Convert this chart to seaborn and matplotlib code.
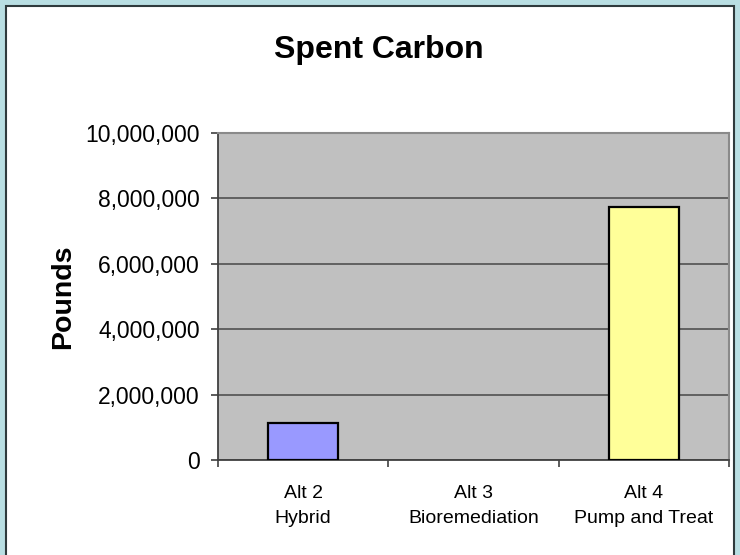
import matplotlib
matplotlib.use("Agg")
import matplotlib.pyplot as plt
import matplotlib.patches as mpatches
from matplotlib.ticker import FuncFormatter, FixedLocator
import seaborn as sns
import pandas as pd

# data
alternatives = ["Alt 2\nHybrid", "Alt 3\nBioremediation", "Alt 4\nPump and Treat"]
spent_carbon_lbs = [1130000, 0, 7750000]
bar_colors = ["#9999FF", "#C0C0C0", "#FFFF99"]
y_ticks = [0, 2000000, 4000000, 6000000, 8000000, 10000000]

sns.set_style("white", {"axes.facecolor": "#C0C0C0", "text.color": "black",
                        "xtick.color": "#404040", "ytick.color": "#404040"})
plt.rcParams["font.family"] = ["Liberation Sans", "DejaVu Sans"]

df = pd.DataFrame({"alt": alternatives, "lbs": spent_carbon_lbs})

fig = plt.figure(figsize=(7.4, 5.55), dpi=100, facecolor="#B9DFE3")
# white chart area with dark frame, kept behind the axes
frame = mpatches.Rectangle((6 / 740, -0.01), 728 / 740, 1 - 6 / 555 + 0.01,
                           transform=fig.transFigure, facecolor="white",
                           edgecolor="#2F3B3D", linewidth=1.5, zorder=-5)
fig.patches.append(frame)

ax = fig.add_axes([218 / 740, 1 - 460 / 555, 511 / 740, 327 / 555])
ax.set_zorder(1)
sns.barplot(data=df, x="alt", y="lbs", hue="alt", palette=bar_colors, legend=False,
            saturation=1, edgecolor="black", linewidth=1.6, width=0.41, ax=ax, zorder=3)
for p in ax.patches:
    if p.get_height() == 0:
        p.set_edgecolor("none")

ax.set_ylim(0, 10000000)
ax.set_xlim(-0.5, 2.5)
ax.yaxis.set_major_locator(FixedLocator(y_ticks))
ax.yaxis.set_major_formatter(FuncFormatter(lambda v, _: f"{int(v):,}"))
ax.grid(axis="y", color="#5A5A5A", linewidth=1.3, zorder=1)
ax.set_axisbelow(True)

ax.xaxis.set_minor_locator(FixedLocator([-0.5, 0.5, 1.5, 2.5]))
ax.tick_params(axis="x", which="major", length=0, pad=18, labelsize=14, labelcolor="black")
ax.tick_params(axis="x", which="minor", length=5, width=1.2, color="#404040",
               direction="out", bottom=True)
ax.tick_params(axis="y", length=5, width=1.2, color="#404040", direction="out",
               pad=8, labelsize=16.5, left=True, labelcolor="black")

for side in ["left", "bottom"]:
    ax.spines[side].set_color("#404040")
    ax.spines[side].set_linewidth(1.3)
for side in ["right", "top"]:
    ax.spines[side].set_visible(True)
    ax.spines[side].set_color("#8A8A8A")
    ax.spines[side].set_linewidth(1.5)

ax.set_xlabel("")
ax.set_ylabel("Pounds", fontsize=20.5, fontweight="bold", color="black")
ax.yaxis.set_label_coords(-0.278, 0.5)
for lbl in ax.get_xticklabels():
    lbl.set_linespacing(1.65)

fig.suptitle("Spent Carbon", x=379 / 740, y=1 - 50 / 555, va="center",
             fontsize=23, fontweight="bold", color="black")

fig.savefig("out.png", dpi=100, facecolor=fig.get_facecolor())
